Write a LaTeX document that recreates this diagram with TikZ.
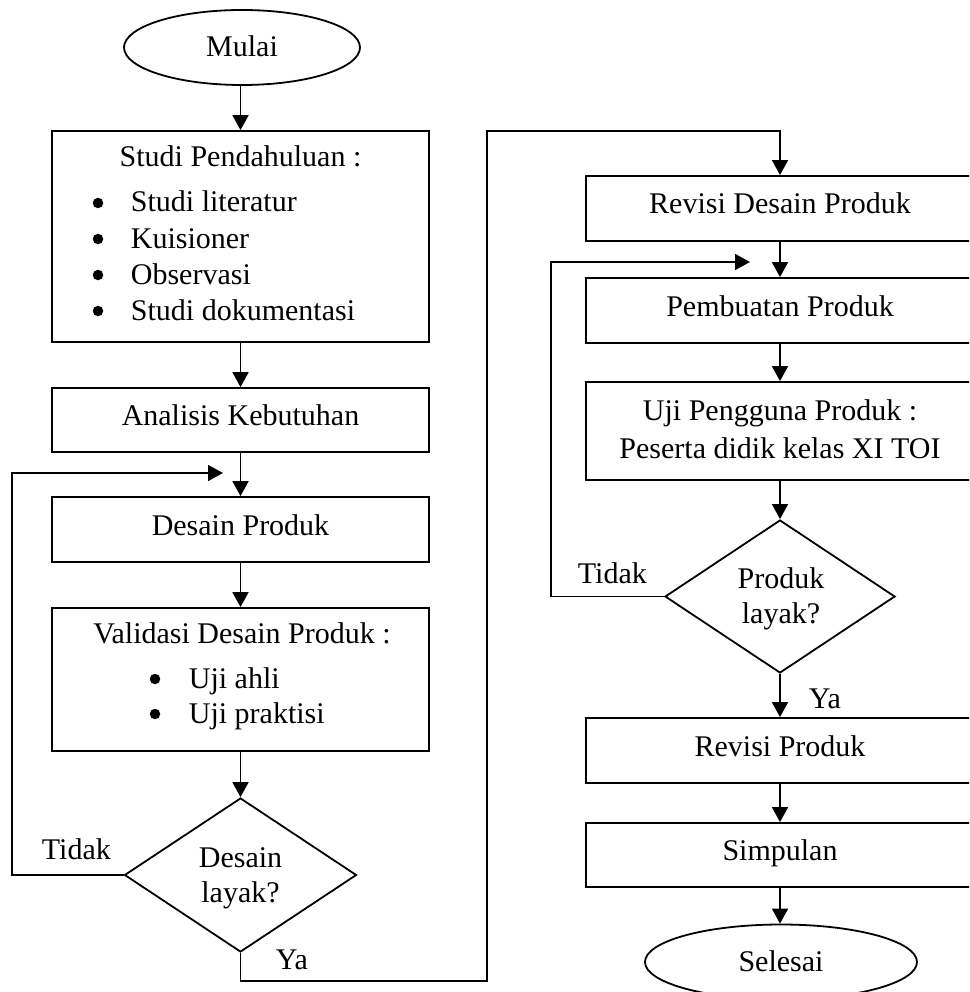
\documentclass[tikz,border=0pt]{standalone}
\usepackage{fontspec}
\setmainfont{Liberation Serif}
\usetikzlibrary{arrows.meta,shapes.geometric}
\begin{document}
\begin{tikzpicture}[x=1pt,y=-1pt,
  line width=1.8pt,
  every node/.style={font=\fontsize{30}{36}\selectfont},
  lbox/.style={draw, rectangle, inner sep=0pt, minimum width=377pt, text height=21pt, text depth=10pt},
  rbox/.style={draw, rectangle, inner sep=0pt, minimum width=388pt, text height=21pt, text depth=10pt},
  term/.style={draw, ellipse, inner sep=0pt, minimum width=#1, minimum height=75pt, text height=21pt, text depth=2pt},
  decision/.style={draw, diamond, inner sep=0pt, minimum width=#1, minimum height=154pt},
  txt/.style={anchor=base, inner sep=0pt},
  txtw/.style={anchor=base west, inner sep=0pt},
  bul/.style={circle, fill=black, inner sep=0pt, minimum size=10.5pt},
  arr/.style={-{Triangle[length=15pt,width=16pt]}},
]
\useasboundingbox (0,0) rectangle (969,992);
\clip (0,0) rectangle (969,992);

% ---------- left column ----------
\node[term=236pt] (mulai) at (242,47.5) {Mulai};

\node[draw, rectangle, inner sep=0pt, minimum width=377pt, minimum height=211pt] (studi) at (240.5,236.5) {};
\node[txt] (studiT) at (240.5,167) {Studi Pendahuluan :};
\node[bul] (b1) at (98,203) {};
\node[txtw] (s1) at (130,212) {Studi literatur};
\node[bul] (b2) at (98,239) {};
\node[txtw] (s2) at (130,248) {Kuisioner};
\node[bul] (b3) at (98,275) {};
\node[txtw] (s3) at (130,284) {Observasi};
\node[bul] (b4) at (98,311) {};
\node[txtw] (s4) at (130,320) {Studi dokumentasi};

\node[lbox, minimum height=64pt] (analisis) at (240.5,420) {Analisis Kebutuhan};
\node[lbox, minimum height=65pt] (desain) at (240.5,529.5) {Desain Produk};

\node[draw, rectangle, inner sep=0pt, minimum width=377pt, minimum height=143pt] (valid) at (240.5,679.5) {};
\node[txt] (validT) at (242,643) {Validasi Desain Produk :};
\node[bul] (b5) at (155,679) {};
\node[txtw] (v1) at (188,688) {Uji ahli};
\node[bul] (b6) at (155,714) {};
\node[txtw] (v2) at (188,723) {Uji praktisi};

\node[decision=232pt] (d1) at (240.5,875) {};
\node[txt] (d1a) at (240.5,867) {Desain};
\node[txt] (d1b) at (240.5,902) {layak?};
\node[txtw] (tidak1) at (41,859) {Tidak};
\node[txtw] (ya1) at (275,969) {Ya};

\coordinate (fb1) at (223,473);

\draw[arr] (studi.north |- mulai.south) -- (studi.north);
\draw[arr] (studi.south) -- (analisis.north);
\draw[arr] (analisis.south) -- (desain.north);
\draw[arr] (desain.south) -- (valid.north);
\draw[arr] (valid.south) -- (d1.north);
\draw[arr] (d1.west) -| (12,473) -- (fb1);

% ---------- right column ----------
\node[rbox, minimum height=65pt] (rdp) at (780,208.5) {Revisi Desain Produk};
\node[rbox, minimum height=65pt] (pp) at (780,310.5) {Pembuatan Produk};

\node[draw, rectangle, inner sep=0pt, minimum width=388pt, minimum height=98pt] (uji) at (780,431) {};
\node[txt] (uji1) at (780,420) {Uji Pengguna Produk :};
\node[txt] (uji2) at (780,458) {Peserta didik kelas XI TOI};

\node[decision=230pt, minimum height=153pt] (d2) at (780,596.5) {};
\node[txt] (d2a) at (781,588) {Produk};
\node[txt] (d2b) at (781,623) {layak?};
\node[txtw] (tidak2) at (577,583) {Tidak};
\node[txtw] (ya2) at (808,708) {Ya};

\node[rbox, minimum height=65pt] (rp) at (780,750.5) {Revisi Produk};
\node[rbox, minimum height=64pt] (simp) at (780,855) {Simpulan};
\node[term=272pt] (selesai) at (781,962) {Selesai};

\coordinate (fb2) at (750,262);

\draw[arr] (d1.south) |- (487,981) |- (780,131) -- (rdp.north);
\draw[arr] (rdp.south) -- (pp.north);
\draw[arr] (pp.south) -- (uji.north);
\draw[arr] (uji.south) -- (d2.north);
\draw[arr] (d2.west) -| (551,262) -- (fb2);
\draw[arr] (d2.south) -- (rp.north);
\draw[arr] (rp.south) -- (simp.north);
\draw[arr] (simp.south) -- (simp.south |- selesai.north);
\end{tikzpicture}
\end{document}
